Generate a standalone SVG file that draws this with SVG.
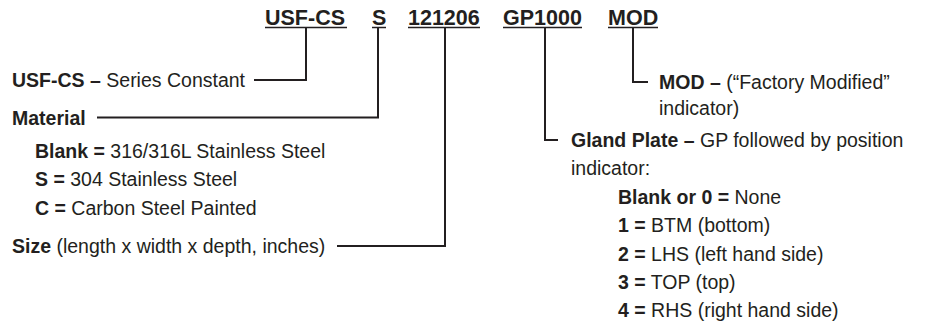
<svg xmlns="http://www.w3.org/2000/svg" width="925" height="322" viewBox="0 0 925 322">
<style>
text{font-family:"Liberation Sans",Arial,sans-serif;fill:#231f20;font-size:19.5px}
.h{font-size:21.5px;font-weight:bold}
.b{font-weight:bold}
.ln{stroke:#231f20;stroke-width:2;fill:none}
.ul{stroke:#231f20;stroke-width:1.5}
</style>
<rect width="925" height="322" fill="#fff"/>
<g id="header">
<text class="h" x="265" y="25">USF-CS</text>
<text class="h" x="372" y="25">S</text>
<text class="h" x="408" y="25">121206</text>
<text class="h" x="503" y="25">GP1000</text>
<text class="h" x="608" y="25">MOD</text>
<line class="ul" x1="265" y1="27.5" x2="347" y2="27.5"/>
<line class="ul" x1="372" y1="27.5" x2="386" y2="27.5"/>
<line class="ul" x1="408" y1="27.5" x2="480" y2="27.5"/>
<line class="ul" x1="503" y1="27.5" x2="582" y2="27.5"/>
<line class="ul" x1="608" y1="27.5" x2="658" y2="27.5"/>
</g>
<g id="connectors">
<polyline class="ln" points="306,28 306,80 254,80"/>
<polyline class="ln" points="378,28 378,117.5 97,117.5"/>
<polyline class="ln" points="445,28 445,246 337,246"/>
<polyline class="ln" points="545,28 545,140 558,140"/>
<polyline class="ln" points="633,28 633,82 648,82"/>
</g>
<g id="series">
<text x="12" y="87"><tspan class="b">USF-CS –</tspan> Series Constant</text>
</g>
<g id="material">
<text x="12" y="124.5" class="b">Material</text>
<text x="35" y="157.5"><tspan class="b">Blank =</tspan> 316/316L Stainless Steel</text>
<text x="35" y="186"><tspan class="b">S =</tspan> 304 Stainless Steel</text>
<text x="35" y="214.5"><tspan class="b">C =</tspan> Carbon Steel Painted</text>
</g>
<g id="size">
<text x="12" y="253"><tspan class="b">Size</tspan> (length x width x depth, inches)</text>
</g>
<g id="mod">
<text x="659" y="88.5"><tspan class="b">MOD –</tspan> (“Factory Modified”</text>
<text x="659" y="114.5">indicator)</text>
</g>
<g id="gland">
<text x="571" y="147"><tspan class="b">Gland Plate –</tspan> GP followed by position</text>
<text x="571" y="175">indicator:</text>
<text x="618" y="203.5"><tspan class="b">Blank or 0 =</tspan> None</text>
<text x="618" y="232"><tspan class="b">1 =</tspan> BTM (bottom)</text>
<text x="618" y="260.5"><tspan class="b">2 =</tspan> LHS (left hand side)</text>
<text x="618" y="288.5"><tspan class="b">3 =</tspan> TOP (top)</text>
<text x="618" y="317"><tspan class="b">4 =</tspan> RHS (right hand side)</text>
</g>
</svg>
